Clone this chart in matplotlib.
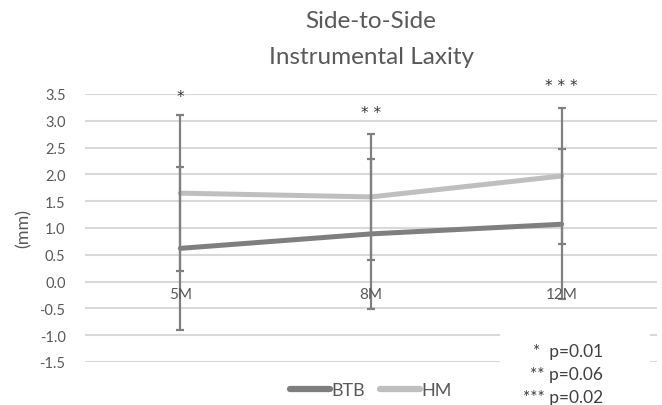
import matplotlib.pyplot as plt
import numpy as np

plt.rcParams['font.family'] = ['Lato', 'DejaVu Sans']

months = ["5M", "8M", "12M"]
btb = [0.62, 0.89, 1.07]
hm = [1.65, 1.58, 1.97]
btb_err = [1.52, 1.40, 1.40]
hm_err = [1.46, 1.17, 1.27]
stars = ["*", "* *", "* * *"]
star_y = [3.46, 3.16, 3.65]
pvals = ["*  p=0.01", "** p=0.06", "*** p=0.02"]
yticks = np.arange(-1.5, 3.51, 0.5)

txt = "#595959"
fig = plt.figure(figsize=(6.62, 4.06), dpi=100)
ax = fig.add_axes([0.1284, 1 - 363 / 406, 0.9924 - 0.1284, (363 - 95) / 406])
x = np.arange(len(months))

ax.plot(x, btb, color="#7f7f7f", lw=3.6, solid_capstyle="round", zorder=3, label="BTB")
ax.plot(x, hm, color="#bfbfbf", lw=3.6, solid_capstyle="round", zorder=3, label="HM")
ax.errorbar(x, btb, yerr=btb_err, fmt="none", ecolor="#808080", elinewidth=1.6, capsize=3, capthick=1.6, zorder=4)
ax.errorbar(x, hm, yerr=hm_err, fmt="none", ecolor="#808080", elinewidth=1.6, capsize=3, capthick=1.6, zorder=4)

ax.set_xlim(-0.5, len(months) - 0.5)
ax.set_ylim(-1.5, 3.5)
ax.set_yticks(yticks)
ax.set_yticklabels(["%.1f" % v for v in yticks], color=txt, fontsize=10.5)
ax.tick_params(axis="y", length=0, pad=14)
ax.set_xticks([])
ax.grid(axis="y", color="#d9d9d9", lw=1.5)
ax.set_axisbelow(True)
for s in ax.spines.values():
    s.set_visible(False)
ax.set_ylabel("(mm)", color=txt, fontsize=13, labelpad=6)

for i, m in enumerate(months):
    ax.text(x[i], -0.1, m, ha="center", va="top", color=txt, fontsize=11, zorder=5)
    ax.text(x[i], star_y[i], stars[i], ha="center", va="center", color="#333333", fontsize=11,
            family="DejaVu Sans")

fig.text(371 / 662, 1 - 22 / 406, "Side-to-Side", ha="center", va="center", color=txt, fontsize=17.5)
fig.text(371 / 662, 1 - 57 / 406, "Instrumental Laxity", ha="center", va="center", color=txt, fontsize=17.5)

# p-value box
fig.patches.append(plt.Rectangle((500 / 662, 0), 150 / 662, 72 / 406, transform=fig.transFigure,
                                 facecolor="white", edgecolor="none", zorder=5))
for i, p in enumerate(pvals):
    fig.text(603 / 662, 1 - (352 + 23 * i) / 406, p, ha="right", va="center", color="#404040",
             fontsize=12.5, zorder=6)

leg = fig.legend(loc="center", bbox_to_anchor=(371 / 662, 1 - 391 / 406), ncol=2, frameon=False,
                 fontsize=13, handlelength=2.2, columnspacing=0.8, handletextpad=0.1)
for h in leg.get_lines():
    h.set_linewidth(4.5)
for t in leg.get_texts():
    t.set_color(txt)

fig.savefig("out.png", dpi=100)
